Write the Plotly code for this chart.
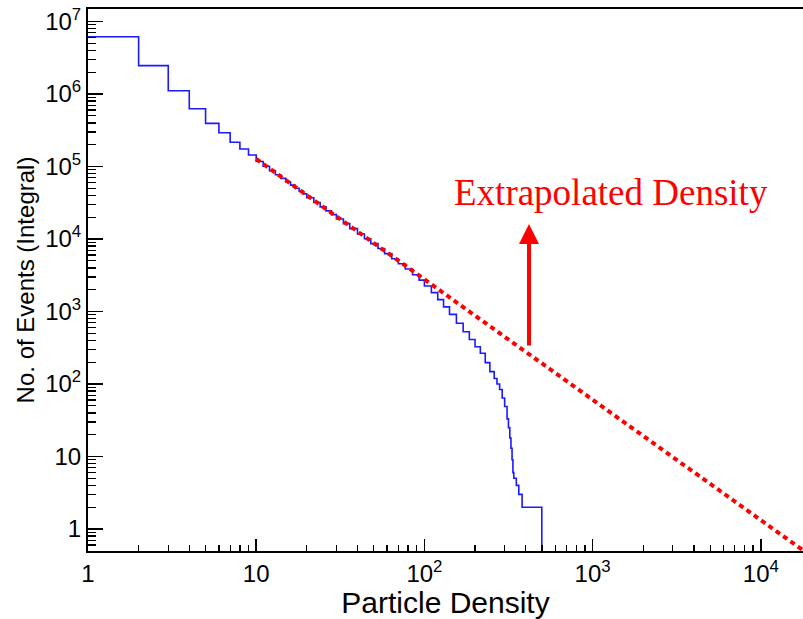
import numpy as np
import plotly.graph_objects as go

# ---- data ----
# integral histogram: left edge of each step and number of events (>= density)
bin_left = [1, 2, 3, 4, 5, 6, 7, 8, 9,
            10, 11, 12, 13, 14, 15, 16, 17, 18, 19,
            20, 22, 24, 26, 28, 30, 33, 36, 40, 44, 48, 53, 58, 64, 70, 77, 85, 93,
            100, 110, 120, 130, 141, 155, 170, 185, 200, 215, 230, 245, 260, 270,
            280, 290, 300, 310, 316, 322, 327, 332, 336, 340, 352, 364, 381, 499]
events = [6.17e6, 2.46e6, 1.11e6, 6.27e5, 3.94e5, 2.92e5, 2.16e5, 1.74e5, 1.44e5,
          1.17e5, 1.01e5, 8.77e4, 7.71e4, 6.85e4, 6.14e4, 5.53e4, 5.01e4, 4.57e4, 4.19e4,
          3.71e4, 3.19e4, 2.77e4, 2.44e4, 2.17e4, 1.89e4, 1.63e4, 1.39e4, 1.17e4,
          1.01e4, 8630, 7380, 6280, 5350, 4550, 3850, 3220, 2710,
          2250, 1820, 1460, 1160, 912, 689, 526, 411, 327, 265, 197, 148, 119, 100,
          84, 64, 49, 33, 25, 18, 13, 9, 6, 5, 4, 3, 2, 0]

# extrapolated power-law density (dotted red line end points)
extrap_x = [10, 20000]
extrap_y = [1.27e5, 0.42]

x_major = [1, 10, 100, 1000, 10000]
x_labels = ["1", "10", "10<sup>2</sup>", "10<sup>3</sup>", "10<sup>4</sup>"]
y_major = [1, 10, 1e2, 1e3, 1e4, 1e5, 1e6, 1e7]
y_labels = ["1", "10", "10<sup>2</sup>", "10<sup>3</sup>", "10<sup>4</sup>",
            "10<sup>5</sup>", "10<sup>6</sup>", "10<sup>7</sup>"]

annotation_text = "Extrapolated Density"
x_title = "Particle Density"
y_title = "No. of Events (Integral)"

# ---- figure ----
ev = np.array(events, dtype=float)
ev_plot = np.where(ev > 0, ev, 1e-3)  # zero events -> below the axis

fig = go.Figure()
fig.add_trace(go.Scatter(
    x=bin_left, y=ev_plot, mode="lines", line_shape="hv",
    line=dict(color="#1a1aff", width=1.6), showlegend=False, hoverinfo="skip"))
fig.add_trace(go.Scatter(
    x=extrap_x, y=extrap_y, mode="lines",
    line=dict(color="#ff0000", width=4, dash="5px,4px"), showlegend=False,
    hoverinfo="skip"))

minor_x = [m * 10 ** k for k in range(0, 5) for m in range(2, 10)]
minor_y = [m * 10 ** k for k in range(-1, 8) for m in range(2, 10)]

W, H = 803, 619
ml, mr, mt, mb = 88, 0, 9, 68
xr = [0, (W - ml - mr) / 168.2]
yr = [-(551 - 529) / 72.5, (529 - mt) / 72.5]

font_sans = "Liberation Sans, Arial, sans-serif"

fig.update_layout(
    width=W, height=H,
    margin=dict(l=ml, r=mr, t=mt, b=mb, pad=0),
    plot_bgcolor="white", paper_bgcolor="white",
    font=dict(family=font_sans, color="black"),
    xaxis=dict(
        type="log", range=xr, showgrid=False, zeroline=False, automargin=False,
        showline=True, linecolor="black", linewidth=2, mirror=True,
        ticks="inside", ticklen=12, tickwidth=1.5, tickcolor="black",
        tickmode="array", tickvals=x_major, ticktext=x_labels,
        tickfont=dict(size=24, family=font_sans, color="black"),
        minor=dict(ticks="inside", ticklen=6, tickwidth=1.3, tickcolor="black",
                   tickmode="array", tickvals=minor_x, showgrid=False),
        title=dict(text=x_title, font=dict(size=30, family=font_sans, color="black"),
                   standoff=0),
    ),
    yaxis=dict(
        type="log", range=yr, showgrid=False, zeroline=False, automargin=False,
        showline=True, linecolor="black", linewidth=2,
        ticks="inside", ticklen=15, tickwidth=1.5, tickcolor="black",
        tickmode="array", tickvals=y_major, ticktext=y_labels,
        tickfont=dict(size=24, family=font_sans, color="black"),
        minor=dict(ticks="inside", ticklen=8, tickwidth=1.3, tickcolor="black",
                   tickmode="array", tickvals=minor_y, showgrid=False),
        title=dict(text=y_title, font=dict(size=24, family=font_sans, color="black"),
                   standoff=4),
    ),
)

pw = W - ml - mr
ph = H - mt - mb
fig.add_annotation(
    text=annotation_text, xref="paper", yref="paper",
    x=(611 - ml) / pw, y=(551 - 193) / ph, xanchor="center", yanchor="middle",
    showarrow=False,
    font=dict(family="Liberation Serif, Times New Roman, serif", size=37, color="#ff0000"))
fig.add_annotation(
    text="", xref="paper", yref="paper",
    x=(529 - ml) / pw, y=(551 - 224) / ph,
    ax=0, ay=123, axref="pixel", ayref="pixel",
    showarrow=True, arrowhead=2, arrowsize=1, arrowwidth=4, arrowcolor="#ff0000",
    standoff=0, startstandoff=0)

fig.write_html(
    "out.html",
    config={"displayModeBar": False, "staticPlot": True},
    post_script="document.body.style.margin='0';"
                "document.documentElement.style.overflow='hidden';")
